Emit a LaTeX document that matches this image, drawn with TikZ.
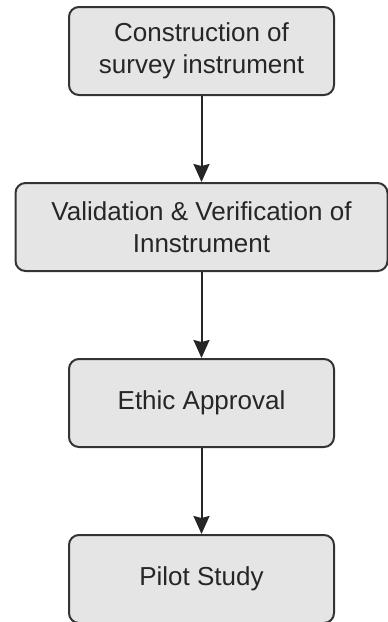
\documentclass[tikz,border=0pt]{standalone}
\usepackage{fontspec}
\setmainfont{Liberation Sans}
\usepackage{tikz}
\usetikzlibrary{arrows.meta, positioning}
\tikzstyle{stage} = [draw=black!80, fill=black!10, line width=2pt, rounded corners=10pt,
  minimum width=265pt, minimum height=88pt, align=center, text=black!85,
  font=\fontsize{26}{32}\selectfont]
\tikzstyle{arrow} = [line width=2pt, draw=black!85, -{Stealth[length=18pt, width=16pt, inset=2pt]}]

\begin{document}
\begin{tikzpicture}[x=1pt, y=1pt]
    \useasboundingbox (0,0) rectangle (388,-622);
    \node[stage] (construct) at (201.5,-51) {Construction of\\survey instrument};
    \node[stage, minimum width=372pt, below=86pt of construct] (validate) {Validation \& Verification of\\Innstrument};
    \node[stage, below=86pt of validate] (ethic) {Ethic Approval};
    \node[stage, below=86pt of ethic] (pilot) {Pilot Study};
    \draw[arrow] (construct) -- (validate);
    \draw[arrow] (validate) -- (ethic);
    \draw[arrow] (ethic) -- (pilot);
  \end{tikzpicture}
\end{document}
